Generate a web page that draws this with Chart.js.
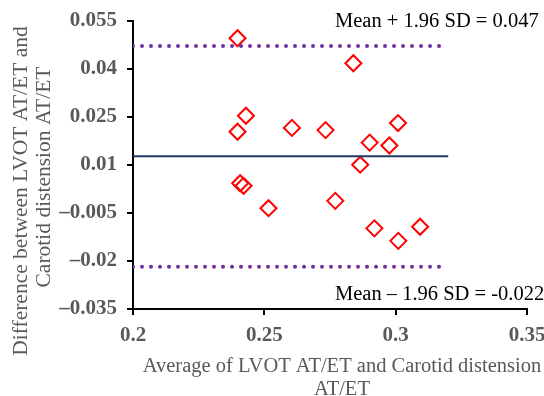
<!DOCTYPE html>
<html>
<head>
<meta charset="utf-8">
<script src="https://cdn.jsdelivr.net/npm/chart.js@4/dist/chart.umd.min.js"></script>
<style>
html,body{margin:0;padding:0;background:#fff;}
#wrap{width:544px;height:396px;position:relative;}
</style>
</head>
<body>
<div id="wrap"><canvas id="c" width="544" height="396"></canvas></div>
<script>
// ---- data ----
const avgX = [0.2398, 0.2430, 0.2398, 0.2605, 0.2733, 0.2839, 0.2901, 0.2976, 0.3009, 0.2865, 0.2408, 0.2421, 0.2516, 0.2770, 0.2919, 0.3010, 0.3093];
const diffY = [0.0496, 0.0254, 0.0204, 0.0216, 0.0209, 0.0418, 0.0170, 0.0161, 0.0231, 0.0101, 0.0043, 0.0035, -0.0035, -0.0012, -0.0098, -0.0137, -0.0093];
const meanDiff = 0.0127;
const upperLoA = 0.0472;
const lowerLoA = -0.0218;
const meanLineX = [0.2, 0.32];
const loaLineX = [0.2, 0.317];
const xTickValues = [0.2, 0.25, 0.3, 0.35];
const xTickLabels = ["0.2", "0.25", "0.3", "0.35"];
const yTickValues = [-0.035, -0.02, -0.005, 0.01, 0.025, 0.04, 0.055];
const yTickLabels = ["\u20130.035", "\u20130.02", "\u20130.005", "0.01", "0.025", "0.04", "0.055"];
const yTitleLines = ["Difference between LVOT AT/ET and", "Carotid distension AT/ET"];
const xTitleLines = ["Average of LVOT AT/ET and Carotid distension", "AT/ET"];
const upperText = "Mean + 1.96 SD = 0.047";
const lowerText = "Mean \u2013 1.96 SD = -0.022";

const SERIF = "'Liberation Serif', 'Times New Roman', serif";
Chart.defaults.font.family = SERIF;

const textPlugin = {
  id: 'texts',
  afterDraw(chart) {
    const ctx = chart.ctx;
    ctx.save();
    ctx.font = "20.5px " + SERIF;
    // annotations
    ctx.fillStyle = '#000';
    ctx.textAlign = 'left';
    ctx.textBaseline = 'alphabetic';
    ctx.fillText(upperText, 335, 27);
    ctx.fillText(lowerText, 335, 300);
    // x title
    ctx.fillStyle = '#595959';
    ctx.textAlign = 'center';
    ctx.fillText(xTitleLines[0], 342, 372);
    ctx.fillText(xTitleLines[1], 342, 395);
    // y title
    ctx.font = "21.5px " + SERIF;
    ctx.save();
    ctx.translate(27, 191);
    ctx.rotate(-Math.PI / 2);
    ctx.fillText(yTitleLines[0], 0, 0);
    ctx.restore();
    ctx.save();
    ctx.translate(50, 177);
    ctx.rotate(-Math.PI / 2);
    ctx.fillText(yTitleLines[1], 0, 0);
    ctx.restore();
    ctx.restore();
  }
};

const toPts = (xs, ys) => xs.map((v, i) => ({x: v, y: ys[i]}));

new Chart(document.getElementById('c'), {
  type: 'scatter',
  data: {
    datasets: [
      {
        type: 'line',
        data: loaLineX.map(v => ({x: v, y: upperLoA})),
        borderColor: '#7030A0',
        borderWidth: 4,
        borderDash: [0.001, 9],
        borderCapStyle: 'round',
        pointRadius: 0,
        fill: false
      },
      {
        type: 'line',
        data: loaLineX.map(v => ({x: v, y: lowerLoA})),
        borderColor: '#7030A0',
        borderWidth: 4,
        borderDash: [0.001, 9],
        borderCapStyle: 'round',
        pointRadius: 0,
        fill: false
      },
      {
        type: 'line',
        data: meanLineX.map(v => ({x: v, y: meanDiff})),
        borderColor: '#1F3864',
        borderWidth: 2,
        pointRadius: 0,
        fill: false
      },
      {
        data: toPts(avgX, diffY),
        pointStyle: 'rectRot',
        pointRadius: 8,
        pointHoverRadius: 8,
        borderColor: '#FF0000',
        backgroundColor: 'rgba(0,0,0,0)',
        borderWidth: 2
      }
    ]
  },
  options: {
    responsive: false,
    animation: false,
    events: [],
    layout: {padding: {top: 21, right: 17, left: 0, bottom: 0}},
    plugins: {legend: {display: false}, tooltip: {enabled: false}, title: {display: false}},
    scales: {
      x: {
        type: 'linear',
        min: 0.2, max: 0.35,
        afterBuildTicks: s => { s.ticks = xTickValues.map(v => ({value: v})); },
        afterFit: s => { s.height = 87; s.paddingLeft = 0; s.paddingRight = 0; },
        ticks: {
          callback: (v, i) => xTickLabels[i],
          color: '#595959',
          font: {size: 21, weight: 'bold', family: SERIF},
          padding: 8,
          maxRotation: 0
        },
        grid: {drawOnChartArea: false, drawTicks: true, tickLength: 6, color: '#000', lineWidth: 2},
        border: {display: true, color: '#000', width: 2}
      },
      y: {
        type: 'linear',
        min: -0.035, max: 0.055,
        afterBuildTicks: s => { s.ticks = yTickValues.map(v => ({value: v})); },
        afterFit: s => { s.width = 133; s.paddingTop = 0; s.paddingBottom = 0; },
        ticks: {
          callback: (v, i) => yTickLabels[i],
          color: '#595959',
          font: {size: 21, weight: 'bold', family: SERIF},
          padding: 10
        },
        grid: {drawOnChartArea: false, drawTicks: true, tickLength: 6, color: '#000', lineWidth: 2},
        border: {display: true, color: '#000', width: 2}
      }
    }
  },
  plugins: [textPlugin]
});
</script>
</body>
</html>
